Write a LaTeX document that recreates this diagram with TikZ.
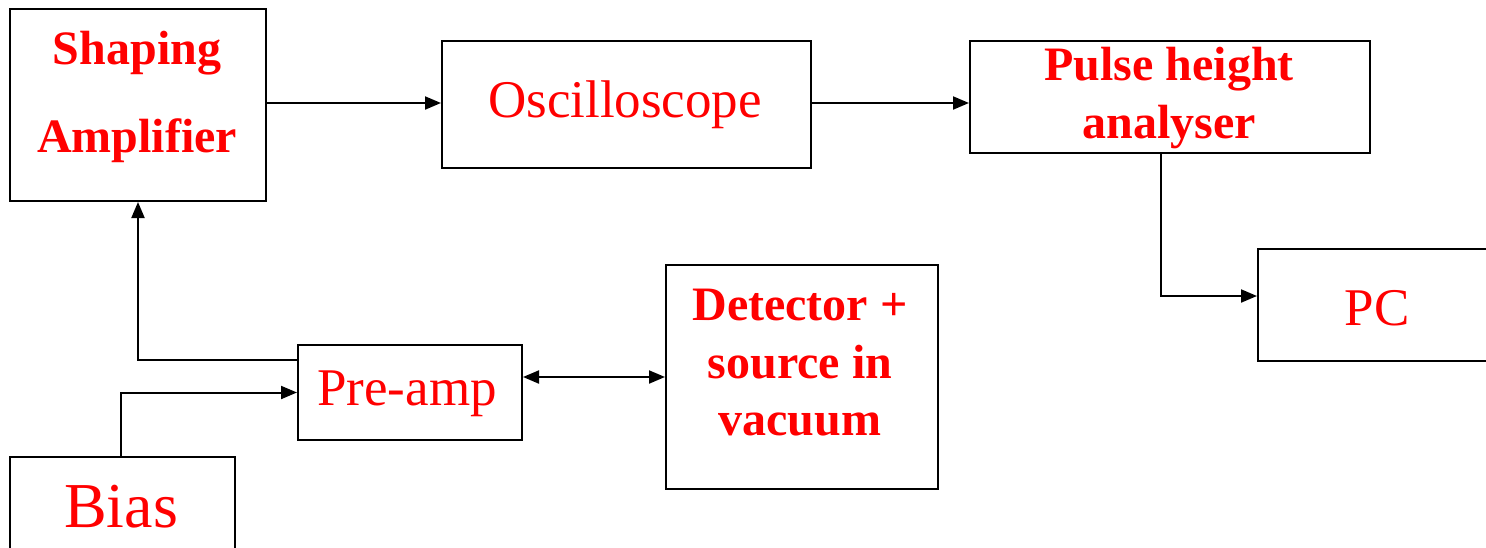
\documentclass[tikz,border=0pt]{standalone}
\usepackage{fontspec}
\setmainfont{Liberation Serif}
\usetikzlibrary{arrows.meta}
\begin{document}
\begin{tikzpicture}[x=1pt,y=-1pt,
  box/.style={draw=black,line width=2pt,inner sep=0pt,anchor=north west},
  lbl/.style={text=red,inner sep=0pt,anchor=base},
  normtxt/.style={lbl,font=\fontsize{53}{60}\selectfont},
  boldtxt/.style={lbl,font=\fontsize{48}{54}\selectfont\bfseries},
  conn/.style={line width=2pt,-{Triangle[length=16pt,width=13pt]}},
  conn2/.style={line width=2pt,{Triangle[length=16pt,width=13pt]}-{Triangle[length=16pt,width=13pt]}}]
\useasboundingbox (0,0) rectangle (1486,547);
% boxes
\node[box,minimum width=256pt,minimum height=192pt] (shaping) at (9,8) {};
\node[box,minimum width=369pt,minimum height=127pt] (osc) at (441,40) {};
\node[box,minimum width=400pt,minimum height=112pt] (pha) at (969,40) {};
\node[box,minimum width=260pt,minimum height=112pt] (pc) at (1257,248) {};
\node[box,minimum width=224pt,minimum height=95pt] (preamp) at (297,344) {};
\node[box,minimum width=272pt,minimum height=224pt] (det) at (665,264) {};
\node[box,minimum width=225pt,minimum height=130pt] (bias) at (9,456) {};
% texts
\node[boldtxt] (t1) at (137,64) {Shaping};
\node[boldtxt] (t2) at (137,152) {Amplifier};
\node[normtxt] (t3) at (625,117) {Oscilloscope};
\node[boldtxt] (t4) at (1169,80) {Pulse height};
\node[boldtxt] (t5) at (1169,138) {analyser};
\node[normtxt] (t6) at (1377,325) {PC};
\node[normtxt] (t7) at (407,405) {Pre-amp};
\node[boldtxt] (t8) at (800,320) {Detector +};
\node[boldtxt] (t9) at (800,378) {source in};
\node[boldtxt] (t10) at (800,435) {vacuum};
\node[lbl,font=\fontsize{64}{70}\selectfont] (t11) at (121,527) {Bias};
% coordinates
\coordinate (shR) at (265,103);
\coordinate (oscR) at (810,103);
\coordinate (phaB) at (1161,152);
\coordinate (pcIn) at (1257,296);
\coordinate (preTL) at (297,360);
\coordinate (biasT) at (121,456);
% connectors
\draw[conn] (shR) -- (shR -| osc.west);
\draw[conn] (oscR) -- (oscR -| pha.west);
\draw[conn] (phaB) |- (pcIn);
\draw[conn] (preTL) -| (shaping.south);
\draw[conn] (biasT) |- (preamp.west);
\draw[conn2] (preamp.east |- det.west) -- (det.west);
\end{tikzpicture}
\end{document}
